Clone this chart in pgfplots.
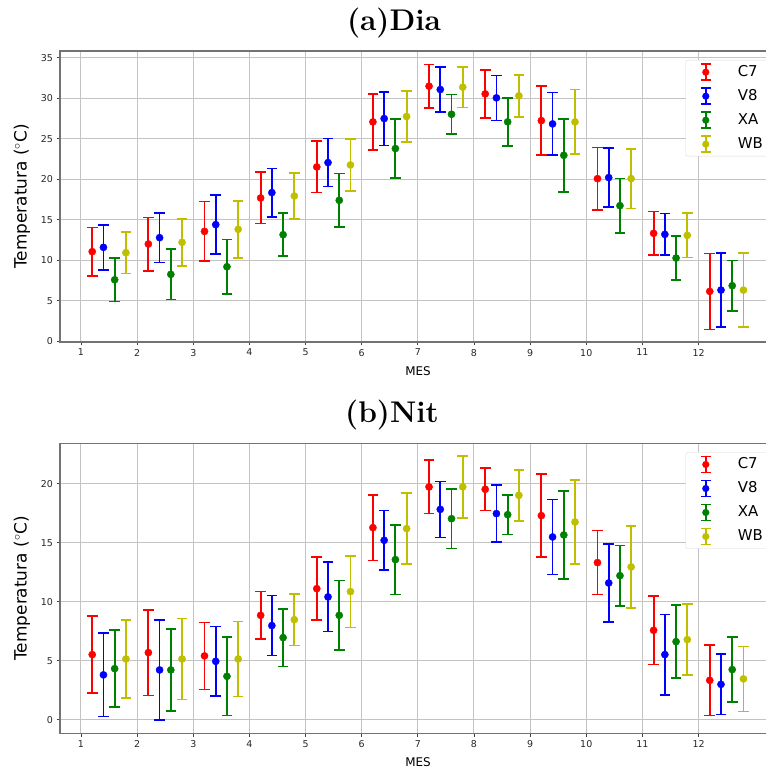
\documentclass[border=0pt]{standalone}
\usepackage{pgfplots}
\pgfplotsset{compat=1.18}
\usepackage{pgfplotstable}
\usepackage{fontspec}
\newfontfamily\dejavu{DejaVu Sans}
\definecolor{cC7}{RGB}{255,0,0}
\definecolor{cV8}{RGB}{0,0,255}
\definecolor{cXA}{RGB}{0,128,0}
\definecolor{cWB}{RGB}{191,191,0}
\definecolor{gridc}{RGB}{195,195,195}
\definecolor{spinec}{RGB}{115,115,115}

% ---------- Dia ----------
\pgfplotstableread{
x y e
1.2 11.07 2.98
2.2 12.01 3.29
3.2 13.57 3.69
4.2 17.69 3.17
5.2 21.51 3.17
6.2 27.07 3.44
7.2 31.47 2.69
8.2 30.52 2.97
9.2 27.23 4.24
10.2 20.07 3.83
11.2 13.33 2.69
12.2 6.17 4.69
}\diaC
\pgfplotstableread{
x y e
1.4 11.60 2.78
2.4 12.79 3.07
3.4 14.40 3.62
4.4 18.35 2.98
5.4 22.05 2.96
6.4 27.48 3.31
7.4 31.06 2.76
8.4 30.03 2.78
9.4 26.82 3.85
10.4 20.20 3.66
11.4 13.20 2.57
12.4 6.33 4.55
}\diaV
\pgfplotstableread{
x y e
1.6 7.60 2.70
2.6 8.27 3.11
3.6 9.21 3.37
4.6 13.16 2.66
5.6 17.40 3.29
6.6 23.78 3.62
7.6 28.01 2.43
8.6 27.07 2.96
9.6 22.95 4.49
10.6 16.74 3.37
11.6 10.28 2.74
12.6 6.87 3.09
}\diaX
\pgfplotstableread{
x y e
1.8 10.94 2.57
2.8 12.22 2.90
3.8 13.82 3.52
4.8 17.93 2.86
5.8 21.76 3.23
6.8 27.73 3.17
7.8 31.35 2.50
8.8 30.28 2.60
9.8 27.07 3.97
10.8 20.07 3.69
11.8 13.08 2.72
12.8 6.33 4.55
}\diaW

% ---------- Nit ----------
\pgfplotstableread{
x y e
1.2 5.51 3.27
2.2 5.68 3.63
3.2 5.40 2.84
4.2 8.84 2.02
5.2 11.10 2.67
6.2 16.27 2.77
7.2 19.72 2.26
8.2 19.52 1.80
9.2 17.29 3.53
10.2 13.31 2.72
11.2 7.57 2.90
12.2 3.33 2.98
}\nitC
\pgfplotstableread{
x y e
1.4 3.79 3.54
2.4 4.21 4.25
3.4 4.94 2.96
4.4 7.97 2.54
5.4 10.40 2.94
6.4 15.20 2.53
7.4 17.82 2.37
8.4 17.46 2.40
9.4 15.48 3.19
10.4 11.58 3.29
11.4 5.51 3.40
12.4 2.99 2.57
}\nitV
\pgfplotstableread{
x y e
1.6 4.32 3.25
2.6 4.21 3.49
3.6 3.67 3.33
4.6 6.95 2.45
5.6 8.84 2.94
6.6 13.56 2.94
7.6 17.03 2.52
8.6 17.37 1.67
9.6 15.65 3.75
10.6 12.20 2.56
11.6 6.61 3.10
12.6 4.24 2.74
}\nitX
\pgfplotstableread{
x y e
1.8 5.14 3.31
2.8 5.14 3.44
3.8 5.14 3.17
4.8 8.47 2.18
5.8 10.85 3.04
6.8 16.19 3.00
7.8 19.72 2.63
8.8 19.01 2.16
9.8 16.75 3.56
10.8 12.94 3.48
11.8 6.78 3.02
12.8 3.45 2.76
}\nitW

\pgfplotsset{
  mystyle/.style={
    scale only axis, width=716bp,
    xmin=0.626, xmax=13.38,
    xtick={1,2,...,12},
    tick pos=left, tick align=outside, major tick length=3.5bp,
    major tick style={black!75, line width=0.8bp},
    grid=major, grid style={gridc, line width=1bp},
    axis line style={spinec, line width=1.3bp},
    tick label style={font=\dejavu\fontsize{9.5}{11}\selectfont, black!85},
    /pgf/number format/assume math mode=true,
    xlabel={MES},
    every axis x label/.style={at={(axis description cs:0.5,0)}, anchor=center, yshift=-29bp, font=\dejavu\fontsize{12}{14}\selectfont},
    ylabel={Temperatura (${}^\circ$C)},
    every axis y label/.style={at={(axis description cs:0,0.5)}, xshift=-38bp, rotate=90, anchor=center, font=\dejavu\fontsize{17}{19}\selectfont},
    legend style={at={(1,1)}, anchor=north east, xshift=-5bp, yshift=-9bp,
      font=\dejavu\fontsize{15}{17}\selectfont, draw=black!15, rounded corners=2bp,
      fill=white, inner xsep=6bp, inner ysep=3bp, row sep=6bp, column sep=0bp,
      nodes={inner sep=2bp, text height=11bp, text depth=3bp},
      cells={anchor=west}},
    legend cell align=left,
    legend image code/.code={
      \path[draw=none, fill=none] (0bp,-9bp) rectangle (44bp,9bp);
      \draw[##1, solid, line width=1.8bp, mark=none, rounded corners=0pt] (14bp,-8bp) -- (14bp,8bp) (9bp,-8bp) -- (19bp,-8bp) (9bp,8bp) -- (19bp,8bp);
      \fill[##1, mark=none, draw=none] (14bp,0) circle (3.6bp);
    },
  },
  ser/.style={only marks, mark=*, mark size=3.6bp, color=#1, mark options={fill=#1, draw=#1},
    error bars/.cd, y dir=both, y explicit,
    error bar style={line width=1.8bp, #1},
    error mark options={rotate=90, line width=1.6bp, mark size=5.3bp, #1}},
}

\begin{document}
\begin{tikzpicture}
\begin{axis}[mystyle, at={(60bp,427bp)}, anchor=south west, height=291bp,
  ymin=-0.07, ymax=35.81, ytick={0,5,...,35}]
\addplot[ser=cC7] table[x=x, y=y, y error=e] {\diaC};
\addlegendentry{C7}
\addplot[ser=cV8] table[x=x, y=y, y error=e] {\diaV};
\addlegendentry{V8}
\addplot[ser=cXA] table[x=x, y=y, y error=e] {\diaX};
\addlegendentry{XA}
\addplot[ser=cWB] table[x=x, y=y, y error=e] {\diaW};
\addlegendentry{WB}
\end{axis}
\begin{axis}[mystyle, at={(60bp,35.7bp)}, anchor=south west, height=290bp,
  ymin=-1.16, ymax=23.42, ytick={0,5,...,20}]
\addplot[ser=cC7] table[x=x, y=y, y error=e] {\nitC};
\addlegendentry{C7}
\addplot[ser=cV8] table[x=x, y=y, y error=e] {\nitV};
\addlegendentry{V8}
\addplot[ser=cXA] table[x=x, y=y, y error=e] {\nitX};
\addlegendentry{XA}
\addplot[ser=cWB] table[x=x, y=y, y error=e] {\nitW};
\addlegendentry{WB}
\end{axis}
\node[anchor=base, font=\fontsize{30}{34}\selectfont\bfseries] at (394bp,738bp) {(a)Dia};
\node[anchor=base, font=\fontsize{30}{34}\selectfont\bfseries] at (392bp,346bp) {(b)Nit};
\pgfresetboundingbox
\useasboundingbox (0,0) rectangle (766bp,769bp);
\end{tikzpicture}
\end{document}
